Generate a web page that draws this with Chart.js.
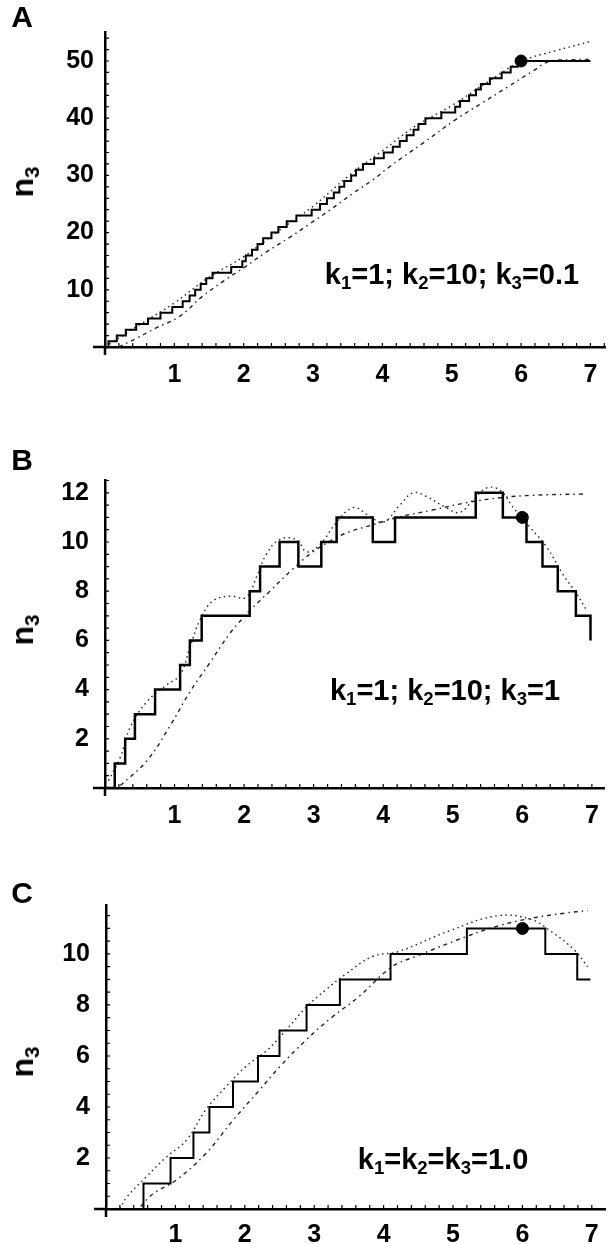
<!DOCTYPE html>
<html>
<head>
<meta charset="utf-8">
<script src="https://cdn.jsdelivr.net/npm/chart.js@4.4.1/dist/chart.umd.min.js"></script>
<style>
  body { margin: 0; background: #fff; }
  #page { position: relative; width: 612px; height: 1244px; overflow: hidden;
          font-family: 'Liberation Sans', Arial, sans-serif; font-weight: bold; color: #000; }
  canvas { position: absolute; left: 0; }
  .lbl { position: absolute; transform: translate(-50%, -50%); white-space: nowrap; line-height: 1; }
  .panel { font-size: 30px; }
  .ylab { font-size: 32px; transform: translate(-50%, -50%) rotate(-90deg); }
  .note { font-size: 29px; }
  sub { font-size: 0.64em; vertical-align: -0.28em; line-height: 0; }
</style>
</head>
<body>
<div id="page">
  <canvas id="chartA" width="612" height="400" style="top:0;width:612px;height:400px"></canvas>
  <canvas id="chartB" width="612" height="430" style="top:400px;width:612px;height:430px"></canvas>
  <canvas id="chartC" width="612" height="414" style="top:830px;width:612px;height:414px"></canvas>

  <div class="lbl panel" style="left:22px;top:17px">A</div>
  <div class="lbl panel" style="left:22px;top:460px">B</div>
  <div class="lbl panel" style="left:22px;top:893px">C</div>

  <div class="lbl ylab" style="left:22px;top:182px">n<sub>3</sub></div>
  <div class="lbl ylab" style="left:22px;top:630px">n<sub>3</sub></div>
  <div class="lbl ylab" style="left:22px;top:1062px">n<sub>3</sub></div>

  <div class="lbl note" style="left:452px;top:274px">k<sub>1</sub>=1; k<sub>2</sub>=10; k<sub>3</sub>=0.1</div>
  <div class="lbl note" style="left:445px;top:690px">k<sub>1</sub>=1; k<sub>2</sub>=10; k<sub>3</sub>=1</div>
  <div class="lbl note" style="left:443px;top:1159px">k<sub>1</sub>=k<sub>2</sub>=k<sub>3</sub>=1.0</div>
</div>

<script>
// shared tick labels
const xTickLabels = [1, 2, 3, 4, 5, 6, 7];
const aYTicks = [10, 20, 30, 40, 50];
const bYTicks = [2, 4, 6, 8, 10, 12];
const cYTicks = [2, 4, 6, 8, 10];

// panel A (k1=1; k2=10; k3=0.1) - stochastic trajectory as jump times / levels
const aStepX = [0, 0.05, 0.17, 0.30, 0.45, 0.62, 0.80, 0.97, 1.12, 1.22, 1.30, 1.38, 1.46, 1.55, 1.82,
  1.98, 2.03, 2.12, 2.20, 2.28, 2.40, 2.50, 2.62, 2.76, 2.98, 3.10, 3.20, 3.30, 3.38, 3.45, 3.55,
  3.62, 3.72, 3.88, 4.02, 4.15, 4.25, 4.35, 4.45, 4.52, 4.62, 4.85, 5.05, 5.12, 5.25, 5.35, 5.42,
  5.55, 5.72, 5.85, 5.95, 7.0];
const aStepN = [0, 1, 2, 3, 4, 5, 6, 7, 8, 9, 10, 11, 12, 13, 14, 15, 16, 17, 18, 19, 20, 21, 22, 23,
  24, 25, 26, 27, 28, 29, 30, 31, 32, 33, 34, 35, 36, 37, 38, 39, 40, 41, 42, 43, 44, 45, 46, 47,
  48, 49, 50, 50];
const aUpperX = [0, 0.5, 1.0, 1.5, 2.0, 2.5, 3.0, 3.5, 4.0, 4.5, 5.0, 5.5, 6.0, 6.5, 7.0];
const aUpperN = [0, 3.9, 7.7, 12.2, 15.8, 20.3, 24.6, 29.8, 34.3, 38.8, 42.2, 46.2, 49.9, 51.8, 53.4];
const aLowerX = [0.2, 0.45, 0.73, 1.07, 1.4, 1.73, 2.02, 2.3, 2.68, 2.96, 3.25, 3.58, 3.86, 4.1,
  4.58, 5.05, 5.43, 5.81, 6.19, 6.4, 6.7, 7.0];
const aLowerN = [0, 1.5, 3.3, 5.3, 8.8, 11.7, 14.0, 16.4, 19.3, 21.6, 24.0, 26.9, 29.2, 31.5,
  35.6, 39.7, 42.6, 45.5, 48.4, 49.9, 50.2, 50.3];
const aDot = [6, 50];

// panel B (k1=1; k2=10; k3=1)
const bStepX = [0, 0.14, 0.29, 0.43, 0.72, 1.08, 1.22, 1.39, 2.08, 2.23, 2.51, 2.78, 3.11, 3.33,
  3.85, 4.17, 5.33, 5.72, 6.06, 6.29, 6.51, 6.77, 6.98];
const bStepN = [0, 1, 2, 3, 4, 5, 6, 7, 8, 9, 10, 9, 10, 11, 10, 11, 12, 11, 10, 9, 8, 7, 6];
const bUpperX = [0.05, 0.22, 0.36, 0.6, 0.89, 1.08, 1.22, 1.36, 1.55, 1.8, 2.03, 2.18, 2.32, 2.51,
  2.75, 2.9, 3.09, 3.33, 3.57, 3.78, 4.0, 4.24, 4.43, 4.62, 4.9, 5.1, 5.29, 5.49, 5.68, 5.87, 6.11,
  6.35, 6.58, 6.78, 6.93];
const bUpperN = [0.3, 1.25, 2.45, 3.5, 4.2, 4.6, 5.7, 6.8, 7.6, 7.8, 7.75, 8.6, 9.5, 10.1, 10.1,
  9.6, 9.9, 10.8, 11.4, 11.1, 10.8, 11.5, 12.0, 11.85, 11.4, 11.2, 11.7, 12.2, 12.1, 11.4, 10.6,
  9.8, 8.7, 7.9, 7.2];
const bLowerX = [0.22, 0.6, 0.93, 1.22, 1.51, 1.8, 2.08, 2.37, 2.7, 2.99, 3.28, 3.5, 3.85, 4.2,
  4.71, 5.2, 5.68, 6.15, 6.87];
const bLowerN = [0.1, 1.1, 2.5, 3.9, 5.1, 6.3, 7.2, 8.0, 8.9, 9.6, 10.1, 10.4, 10.7, 11.0, 11.3,
  11.6, 11.8, 11.9, 11.95];
const bDot = [6, 11];

// panel C (k1=k2=k3=1.0)
const cStepX = [0, 0.54, 0.93, 1.26, 1.49, 1.83, 2.19, 2.5, 2.89, 3.37, 4.1, 5.2, 6.33, 6.79, 6.98];
const cStepN = [0, 1, 2, 3, 4, 5, 6, 7, 8, 9, 10, 11, 10, 9, 9];
const cUpperX = [0.2, 0.3, 0.58, 0.87, 1.16, 1.44, 1.73, 2.02, 2.31, 2.59, 2.88, 3.17, 3.45, 3.84,
  4.22, 4.94, 5.65, 6.13, 6.42, 6.75, 6.94];
const cUpperN = [0, 0.47, 1.26, 2.04, 2.7, 3.9, 4.8, 5.6, 6.2, 7.0, 7.9, 8.6, 9.2, 9.9, 10.1, 10.9,
  11.5, 11.35, 10.87, 10.15, 9.5];
const cLowerX = [0.5, 0.68, 1.01, 1.44, 1.83, 2.21, 2.5, 2.88, 3.26, 3.64, 4.12, 4.46, 5.18, 5.65,
  6.13, 6.61, 6.94];
const cLowerN = [0.1, 0.6, 1.13, 2.18, 3.48, 4.66, 5.57, 6.62, 7.53, 8.32, 9.5, 9.9, 10.67, 11.1,
  11.4, 11.6, 11.7];
const cDot = [6, 11];

const tickFont = { family: "'Liberation Sans', Arial, sans-serif", weight: 'bold', size: 25 };

function pts(xs, ys) {
  return xs.map((x, i) => ({ x: x, y: ys[i] }));
}

// small inward tick marks and the short axis overhangs
const axisTicks = {
  id: 'axisTicks',
  afterDraw(chart, args, o) {
    const { ctx, chartArea: a, scales: { x, y } } = chart;
    ctx.save();
    ctx.strokeStyle = '#000';
    ctx.lineWidth = 2.5;
    ctx.beginPath();
    ctx.moveTo(a.left - o.overLeft, a.bottom);
    ctx.lineTo(a.left, a.bottom);
    ctx.moveTo(a.left, a.bottom);
    ctx.lineTo(a.left, a.bottom + o.overDown);
    ctx.stroke();
    ctx.lineWidth = 1.2;
    ctx.beginPath();
    for (let i = 1; i * o.xStep <= x.max; i++) {
      const px = x.getPixelForValue(i * o.xStep);
      ctx.moveTo(px, a.bottom);
      ctx.lineTo(px, a.bottom - 4);
    }
    for (let i = 1; i * o.yStep <= y.max; i++) {
      const py = y.getPixelForValue(i * o.yStep);
      ctx.moveTo(a.left, py);
      ctx.lineTo(a.left + 4, py);
    }
    ctx.stroke();
    ctx.restore();
  }
};

function makePanel(id, p) {
  const ctx = document.getElementById(id).getContext('2d');
  return new Chart(ctx, {
    type: 'line',
    data: {
      datasets: [
        { data: pts(p.stepX, p.stepN), stepped: 'before', borderColor: '#000',
          borderWidth: p.stepWidth, pointRadius: 0, fill: false },
        { data: pts(p.upX, p.upN), borderColor: '#222', borderWidth: 1.4,
          borderDash: [1.5, 3.5], tension: 0.4, pointRadius: 0, fill: false },
        { data: pts(p.loX, p.loN), borderColor: '#222', borderWidth: 1.4,
          borderDash: [4, 4, 1.5, 4], tension: 0.4, pointRadius: 0, fill: false },
        { data: [{ x: p.dot[0], y: p.dot[1] }], showLine: false, pointRadius: 6,
          pointBackgroundColor: '#000', pointBorderColor: '#000' }
      ]
    },
    options: {
      responsive: false,
      animation: false,
      events: [],
      layout: { padding: { left: 0, right: p.padRight, top: p.padTop, bottom: 0 } },
      plugins: {
        legend: { display: false },
        tooltip: { enabled: false },
        axisTicks: { xStep: 0.2, yStep: p.yMinor, overLeft: 12, overDown: 8 }
      },
      scales: {
        x: {
          type: 'linear', min: 0, max: p.xMax,
          afterFit: s => { s.height = p.xAxisH; },
          afterBuildTicks: s => { s.ticks = xTickLabels.map(v => ({ value: v })); },
          grid: { display: false, drawTicks: false },
          border: { display: true, color: '#000', width: 2.5 },
          ticks: { font: tickFont, color: '#000', padding: p.xPad, maxRotation: 0, autoSkip: false }
        },
        y: {
          type: 'linear', min: 0, max: p.yMax,
          afterFit: s => { s.width = p.yAxisW; },
          afterBuildTicks: s => { s.ticks = p.yTicks.map(v => ({ value: v })); },
          grid: { display: false, drawTicks: false },
          border: { display: true, color: '#000', width: 2.5 },
          ticks: { font: tickFont, color: '#000', padding: p.yPad }
        }
      }
    },
    plugins: [axisTicks]
  });
}

makePanel('chartA', {
  stepX: aStepX, stepN: aStepN, upX: aUpperX, upN: aUpperN, loX: aLowerX, loN: aLowerN, dot: aDot,
  yTicks: aYTicks, stepWidth: 2, xMax: 7.21, yMax: 55.07, yMinor: 2,
  padTop: 32, padRight: 0, xAxisH: 53, yAxisW: 105, xPad: 13, yPad: 11
});
makePanel('chartB', {
  stepX: bStepX, stepN: bStepN, upX: bUpperX, upN: bUpperN, loX: bLowerX, loN: bLowerN, dot: bDot,
  yTicks: bYTicks, stepWidth: 2.5, xMax: 7.18, yMax: 12.52, yMinor: 0.5,
  padTop: 80, padRight: 7, xAxisH: 42, yAxisW: 105, xPad: 13, yPad: 16
});
makePanel('chartC', {
  stepX: cStepX, stepN: cStepN, upX: cUpperX, upN: cUpperN, loX: cLowerX, loN: cLowerN, dot: cDot,
  yTicks: cYTicks, stepWidth: 2, xMax: 7.19, yMax: 11.92, yMinor: 0.5,
  padTop: 75, padRight: 7, xAxisH: 35, yAxisW: 106, xPad: 11, yPad: 16
});
</script>
</body>
</html>
